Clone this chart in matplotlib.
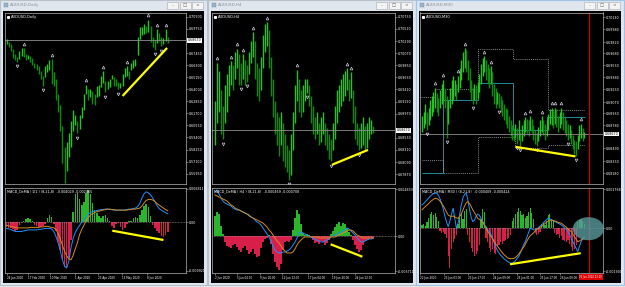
import matplotlib
matplotlib.use('Agg')
import matplotlib.pyplot as plt
from matplotlib.patches import Rectangle, Ellipse
import numpy as np

W, H = 625, 287

# ---------------- DATA ----------------
# Window 1: AUDUSD Daily (prices in 1e-4 units), one bar ~1.5 trading days
d1_low = [6830, 6800, 6760, 6700, 6680, 6660, 6690, 6720, 6710, 6680,
          6690, 6660, 6630, 6600, 6580, 6550, 6500, 6434, 6520, 6560,
          6580, 6450, 6430, 6300, 6180, 6000, 5700, 5506, 5620, 5750,
          5850, 6000, 6060, 5980, 6020, 6130, 6200, 6350, 6300, 6330,
          6260, 6250, 6330, 6340, 6420, 6460, 6370, 6400, 6420, 6500,
          6430, 6430, 6400, 6410, 6430, 6520, 6530, 6500, 6580, 6600,
          6620, 6730, 6880, 6920, 6930, 6940, 6950, 6850, 6800, 6778,
          6840, 6860, 6810, 6830, 6860, 6840]
d1_high = [6875, 6850, 6830, 6780, 6740, 6710, 6760, 6790, 6795, 6740,
           6730, 6720, 6700, 6650, 6640, 6620, 6570, 6530, 6620, 6640,
           6680, 6685, 6560, 6500, 6350, 6250, 6050, 5850, 5900, 5980,
           6100, 6200, 6150, 6100, 6150, 6230, 6350, 6445, 6400, 6400,
           6380, 6350, 6430, 6440, 6530, 6570, 6480, 6480, 6500, 6540,
           6520, 6500, 6470, 6460, 6550, 6600, 6620, 6570, 6650, 6680,
           6690, 6900, 6990, 6990, 7020, 7000, 7064, 7000, 6900, 6870,
           6970, 6940, 6900, 6890, 6970, 6900]
d1_up_fractals = [8, 21, 37, 45, 56, 66, 70, 74]
d1_down_fractals = [5, 17, 27, 33, 46, 52, 69, 72]
d1_current = 6867
d1_price_ticks = [7090, 6975, 6745, 6630, 6515, 6400, 6285, 6170, 6055, 5940, 5825, 5710, 5595]
d1_price_labels = ['0.70900', '0.69750', '0.67450', '0.66300', '0.65150', '0.64000', '0.62850',
                   '0.61700', '0.60550', '0.59400', '0.58250', '0.57100', '0.55950']
d1_trend_x = [54, 74.7]
d1_trend_y = [6336, 6794]
# MACD (1e-4 units)
d1_hist = [-10, -12, -12, -14, -18, -15, -5, -2, 3, 7, 8, 6, 2, -6, -8, -9, -10, -8, -3, 8,
           14, 10, -3, -18, -38, -55, -72, -88, -90, -70, -35, 20, 55, 57, 45, 35, 40, 58, 63, 55,
           38, 25, 18, 12, 8, 12, 15, 8, 2, -8, -11, -4, -2, -10, -15, -12, -3, 3, 2, 8,
           10, 9, 15, 25, 33, 37, 30, 12, -5, -12, -18, -22, -27, -28, -25, -20]
d1_macd = [-12, -13, -14, -16, -18, -18, -18, -18, -17, -16, -15, -15, -15, -15, -15, -14, -14, -13, -12, -12,
           -12, -13, -18, -28, -40, -55, -74, -86, -90, -76, -50, -32, -20, -12, -6, 0, 5, 11, 16, 19,
           21, 22, 23, 24, 25, 25, 26, 26, 25, 25, 24, 24, 24, 24, 24, 24, 25, 26, 26, 27,
           28, 31, 37, 48, 56, 60, 58, 54, 48, 41, 33, 27, 24, 21, 19, 17]
d1_signal = [-6, -7, -8, -9, -10, -11, -11, -11, -11, -11, -11, -10, -10, -10, -10, -10, -9, -9, -8, -8,
             -9, -10, -11, -14, -22, -32, -45, -57, -66, -72, -74, -65, -52, -40, -24, -14, -6, 3, 9, 14,
             17, 19, 21, 22, 23, 24, 25, 26, 26, 25, 25, 24, 24, 24, 24, 24, 24, 25, 25, 26,
             26, 27, 28, 32, 38, 43, 45, 45, 44, 41, 37, 34, 31, 28, 25, 23]
d1_macd_trend_x = [49.2, 73]
d1_macd_trend_y = [-16.5, -34.8]
d1_dates = ['24 Jan 2020', '17 Feb 2020', '10 Mar 2020', '1 Apr 2020', '23 Apr 2020', '15 May 2020', '8 Jun 2020']
d1_date_pos = [0, 10, 20.2, 31.9, 42.6, 53.7, 65.3]

# Window 2: AUDUSD H4
h4_low = [6840, 6880, 6900, 6860, 6850, 6880, 6900, 6930, 6950, 6940,
          6960, 6980, 6950, 6950, 6960, 6950, 6955, 6970, 6990, 7000,
          6960, 6930, 6920, 6940, 6980, 7010, 7020, 6980, 6930, 6890,
          6860, 6840, 6820, 6840, 6810, 6800, 6790, 6776, 6785, 6830,
          6880, 6920, 6900, 6890, 6900, 6920, 6935, 6910, 6880, 6860,
          6850, 6860, 6840, 6845, 6860, 6840, 6830, 6815, 6810, 6830,
          6850, 6880, 6900, 6910, 6920, 6930, 6940, 6920, 6925, 6880,
          6850, 6840, 6830, 6835, 6840, 6830, 6835, 6850, 6860, 6862]
h4_high = [6920, 6990, 6975, 6940, 6910, 6950, 6970, 6985, 6992, 6985,
           7010, 7015, 7005, 6990, 7005, 6995, 6985, 7010, 7030, 7045,
           7030, 6990, 6980, 7000, 7040, 7060, 7064, 7050, 7000, 6960,
           6920, 6900, 6890, 6900, 6880, 6860, 6840, 6830, 6860, 6900,
           6950, 6977, 6960, 6940, 6950, 6960, 6960, 6950, 6930, 6910,
           6890, 6900, 6880, 6890, 6900, 6880, 6870, 6860, 6850, 6880,
           6910, 6940, 6950, 6960, 6970, 6975, 6980, 6960, 6972, 6940,
           6910, 6880, 6870, 6880, 6890, 6875, 6880, 6890, 6885, 6875]
h4_up_fractals = [1, 8, 11, 14, 19, 26, 41, 66, 68]
h4_down_fractals = [4, 13, 16, 37, 46, 58, 72]
h4_current = 6867
h4_price_ticks = [7073, 7051, 7029, 7007, 6985, 6963, 6941, 6919, 6897, 6853, 6831, 6809, 6787]
h4_price_labels = ['0.70730', '0.70510', '0.70290', '0.70070', '0.69850', '0.69630', '0.69410',
                   '0.69190', '0.68970', '0.68530', '0.68310', '0.68090', '0.67870']
h4_trend_x = [58.5, 76.5]
h4_trend_y = [6804, 6831]
h4_hist = [20, 24, 22, 10, 2, -6, -10, -11, -12, -9, -8, -11, -14, -16, -12, -10, -14, -18, -16, -13,
           -18, -21, -20, -12, -6, -3, -2, 1, -8, -18, -26, -31, -34, -28, -14, -6, -5, -6, -4, 6,
           18, 26, 22, 12, 3, 1, 2, 1, -1, -4, -7, -6, -8, -5, -6, -9, -7, -4, 2, 5,
           9, 12, 14, 10, 13, 12, 8, 4, 1, -4, -9, -13, -16, -14, -9, -5, -4, -3, -2, -3]
h4_macd = [44, 46, 42, 38, 35, 33, 32, 31, 30, 28, 27, 26, 26, 25, 24, 23, 22, 20, 19, 18,
           16, 14, 13, 11, 8, 5, 2, -1, -5, -10, -14, -16, -17, -17, -16, -16, -15, -14, -12, -9,
           -6, -2, 3, 4, 3, 2, 1, 0, -1, -2, -3, -4, -5, -6, -6, -5, -4, -3, -1, 0,
           1, 2, 3, 4, 5, 6, 8, 7, 5, 3, 1, -2, -4, -6, -6, -5, -4, -3, -3, -2]
h4_signal = [41, 40, 39, 38, 37, 36, 35, 33, 31, 30, 28, 27, 26, 25, 24, 23, 22, 21, 19, 18,
             17, 16, 15, 14, 13, 11, 9, 6, 4, 1, -2, -5, -7, -10, -13, -15, -17, -17, -17, -16,
             -13, -9, -6, -4, -2, -1, -1, -1, -1, -1, -1, -1, -2, -2, -2, -2, -2, -2, -1, -1,
             -1, 0, 1, 2, 3, 4, 5, 6, 6, 5, 3, 1, 0, -1, -2, -2, -2, -2, -2, -2]
h4_macd_trend_x = [57.8, 73.7]
h4_macd_trend_y = [-8.3, -20.7]
h4_dates = ['2 Jun 2020', '5 Jun 04:00', '9 Jun 20:00', '12 Jun 12:00', '17 Jun 04:00', '19 Jun 20:00', '24 Jun 12:00']
h4_date_pos = [0, 11, 22.5, 33.5, 46.5, 58.5, 70]

# Window 3: AUDUSD M30
m30_low = [6870, 6875, 6880, 6872, 6878, 6885, 6890, 6895, 6900, 6895,
           6890, 6900, 6905, 6910, 6900, 6862, 6880, 6900, 6905, 6910,
           6915, 6910, 6920, 6925, 6935, 6945, 6950, 6945, 6935, 6920,
           6910, 6905, 6910, 6905, 6912, 6920, 6930, 6940, 6945, 6935,
           6930, 6925, 6930, 6915, 6905, 6900, 6905, 6900, 6895, 6890,
           6885, 6880, 6875, 6870, 6865, 6860, 6858, 6862, 6855, 6860,
           6852, 6858, 6865, 6870, 6868, 6865, 6872, 6868, 6860, 6855,
           6852, 6858, 6865, 6870, 6866, 6860, 6865, 6872, 6880, 6878,
           6875, 6880, 6876, 6870, 6875, 6880, 6872, 6868, 6865, 6860,
           6862, 6855, 6848, 6842, 6840, 6848, 6858, 6862, 6858, 6862]
m30_high = [6890, 6895, 6905, 6895, 6900, 6910, 6915, 6920, 6925, 6918,
            6912, 6922, 6930, 6935, 6925, 6915, 6910, 6925, 6935, 6940,
            6935, 6930, 6940, 6950, 6960, 6970, 6974, 6972, 6960, 6950,
            6935, 6925, 6930, 6928, 6932, 6942, 6955, 6962, 6964, 6960,
            6955, 6950, 6952, 6945, 6930, 6925, 6920, 6918, 6915, 6910,
            6905, 6900, 6898, 6890, 6885, 6878, 6875, 6880, 6875, 6885,
            6870, 6878, 6885, 6888, 6886, 6884, 6890, 6886, 6878, 6872,
            6868, 6876, 6884, 6889, 6885, 6880, 6884, 6892, 6898, 6900,
            6896, 6900, 6898, 6890, 6895, 6900, 6894, 6888, 6884, 6880,
            6878, 6872, 6866, 6860, 6858, 6866, 6878, 6880, 6874, 6870]
m30_up_fractals = [8, 13, 22, 26, 38, 42, 63, 66, 73, 79, 81, 85, 97]
m30_down_fractals = [3, 15, 31, 47, 58, 60, 70, 89, 94]
m30_current = 6867
m30_price_ticks = [7013, 6998, 6982, 6968, 6953, 6938, 6923, 6907, 6893, 6878, 6849, 6833, 6818]
m30_price_labels = ['0.70130', '0.69980', '0.69820', '0.69680', '0.69530', '0.69380', '0.69230',
                    '0.69070', '0.68930', '0.68780', '0.68490', '0.68330', '0.68180']
m30_trend_x = [57, 93.6]
m30_trend_y = [6851, 6839]
# range indicator step lines (bar-index edges, price levels)
m30_teal_edges = [0, 12.8, 34.1, 55.5, 76.2, 99.4]
m30_teal_levels = [6818, 6910, 6931, 6872, 6888]
m30_upper_edges = [-1.2, 7.9, 34.1, 55.5, 76.8, 99.4]
m30_upper_levels = [6913, 6923, 6973, 6961, 6897]
m30_lower_edges = [0, 12.8, 34.1, 56.7, 76.8, 99.4]
m30_lower_levels = [6835, 6818, 6863, 6850, 6853]
m30_marker_bar = 101.8
# MACD (1e-5 units)
m30_hist = [15, 20, 10, 25, 45, 60, 70, 55, 65, 48, 30, -10, -20, -15, -25, -40, -120, -170, -90, -60,
            -45, -30, 20, 45, 60, 40, 75, 80, -30, -60, -85, -100, -120, -110, -95, -70, 40, 80, 70, -40,
            -60, -85, -100, -90, -105, -110, -80, -70, -60, -65, -55, -50, -45, -40, -30, 30, 45, 60, 70, 85,
            75, 55, 60, 45, 50, 70, 85, 65, 40, -20, -30, -25, -15, 20, 25, 15, 30, 55, 60, 40,
            35, -20, -30, -25, -40, -35, -50, -55, -60, -50, -65, -80, -95, -90, -70, 25, 35, 40, 30, 20]
m30_macd = [99, 105, 112, 120, 128, 136, 142, 147, 149, 149, 140, 125, 105, 80, 50, 25, 7, 30, 60, 85,
            40, 0, 20, 60, 100, 130, 145, 149, 120, 80, 45, 28, 35, 50, 60, 55, 42, 30, 15, 7,
            -5, -15, -25, -40, -60, -80, -95, -105, -115, -122, -130, -135, -140, -145, -148, -149, -145, -138, -128, -120,
            -105, -88, -70, -57, -38, -18, 0, -3, -6, -7, -3, 3, 9, 14, 22, 30, 37, 42, 40, 36,
            32, 28, 25, 21, 18, 14, 8, 1, -6, -14, -28, -42, -57, -71, -85, -99, -78, -57, -46, -36]
m30_signal = [78, 85, 92, 98, 105, 112, 118, 123, 127, 126, 122, 115, 105, 95, 82, 68, 56, 52, 50, 52,
              48, 44, 42, 50, 62, 78, 95, 108, 113, 105, 92, 78, 66, 55, 42, 38, 32, 24, 14, 2,
              -14, -24, -34, -45, -56, -67, -76, -85, -95, -104, -112, -118, -125, -128, -129, -129, -128, -124, -118, -110,
              -100, -90, -80, -68, -55, -42, -32, -26, -20, -12, -6, -1, 4, 8, 14, 20, 26, 30, 33, 35,
              33, 31, 28, 25, 23, 21, 16, 10, 4, -3, -9, -14, -25, -36, -47, -57, -54, -50, -46, -43]
m30_macd_trend_x = [53.7, 96.8]
m30_macd_trend_y = [-153, -106]
m30_ellipse = [101.5, -2, 19, 98]   # centre x, centre y, width, height (data units)
m30_dates = ['22 Jun 2020', '23 Jun 03:00', '23 Jun 17:00', '24 Jun 09:00', '25 Jun 01:00', '25 Jun 17:00', '26 Jun 09:00']
m30_date_pos = [-1.0, 13.4, 28, 43.3, 57.9, 71.9, 84.3]
m30_marker_label = '26 Jun 2020 23:00'
m30_marker_label_x = 103.0

# ---------------- DRAWING ----------------
YLAB = 2.35
XLAB = 1.95

fig = plt.figure(figsize=(W / 100, H / 100), dpi=100)
fig.patch.set_facecolor('#e4e7eb')


def px_rect(x0, y0, x1, y1):
    return [x0 / W, 1 - y1 / H, (x1 - x0) / W, (y1 - y0) / H]


bg = fig.add_axes([0, 0, 1, 1])
bg.set_xlim(0, W)
bg.set_ylim(H, 0)
bg.axis('off')


def window_chrome(x0, x1, title, active=False):
    edge = '#9fc3e6' if active else '#b9c2cc'
    bg.add_patch(Rectangle((x0, 0), x1 - x0, 285, fc='#dfe6ee', ec=edge, lw=0.8))
    bg.add_patch(Rectangle((x0 + 3, 11), x1 - x0 - 6, 271.5, fc='black', ec='none'))
    bg.add_patch(Rectangle((x0 + 3.5, 3), 4, 4, fc='#9ab4cf', ec='#6f8aa6', lw=0.3))
    bg.text(x0 + 10, 5.3, title, fontsize=3.0, color='#8a8f96', va='center', ha='left')
    bx = x1 - 40
    for k, sym in enumerate(['–', '□', '×']):
        bg.add_patch(Rectangle((bx + k * 12.5, 2), 11, 7, fc='#f4f4f4', ec='#a4aab2', lw=0.4))
        bg.text(bx + k * 12.5 + 5.5, 5.6, sym, fontsize=3.2, color='#606060', ha='center', va='center')


window_chrome(0, 207, 'AUDUSD,Daily')
window_chrome(208, 416, 'AUDUSD,H4')
window_chrome(416, 624, 'AUDUSD,M30', active=True)


def style_axes(ax):
    ax.set_facecolor('black')
    for s in ax.spines.values():
        s.set_color('#b4b4b4')
        s.set_linewidth(0.5)
    ax.yaxis.tick_right()
    ax.tick_params(axis='y', colors='#b4b4b4', labelcolor='white', labelsize=YLAB,
                   length=1.5, width=0.4, pad=0.8)


def price_panel(rect, low, high, xlim, ylim, ticks, labels, cur, title,
                up_fr, dn_fr, tr_x, tr_y):
    ax = fig.add_axes(px_rect(*rect))
    style_axes(ax)
    lo = np.array(low, float)
    hi = np.array(high, float)
    x = np.arange(len(lo))
    mid = (lo + hi) / 2
    up = np.r_[True, mid[1:] >= mid[:-1]]
    cols = np.where(up, '#23c423', '#0b8d0b')
    ax.vlines(x, lo, hi, colors=cols, linewidth=1.0)
    ax.axhline(cur, color='#8e8e8e', lw=0.6)
    off = (ylim[1] - ylim[0]) * 0.025
    ax.plot(up_fr, hi[up_fr] + off, ls='none', marker='^', ms=2.0, mfc='none',
            mec='#c4c6d6', mew=0.5)
    ax.plot(dn_fr, lo[dn_fr] - off, ls='none', marker='v', ms=2.0, mfc='none',
            mec='#c4c6d6', mew=0.5)
    ax.plot(tr_x, tr_y, color='#ffff00', lw=1.6, solid_capstyle='butt')
    ax.set_xlim(xlim)
    ax.set_ylim(ylim)
    ax.set_xticks([])
    ax.set_yticks(ticks)
    ax.set_yticklabels(labels)
    ax.text(1.008, cur, '0.%05d' % (cur * 10), transform=ax.get_yaxis_transform(),
            fontsize=YLAB, color='black', va='center', ha='left', clip_on=False,
            bbox=dict(boxstyle='square,pad=0.12', fc='white', ec='none'))
    ax.plot([0.016], [0.972], transform=ax.transAxes, marker='s', ms=1.2, color='white')
    ax.text(0.035, 0.975, title, transform=ax.transAxes, fontsize=2.6, color='white',
            va='center', ha='left')
    return ax


def macd_panel(rect, hist, macd, sig, xlim, ylim, labels, title, dpos, dlabels,
               tr_x, tr_y):
    ax = fig.add_axes(px_rect(*rect))
    style_axes(ax)
    h = np.array(hist, float)
    x = np.arange(len(h))
    cols = np.where(h >= 0, '#2bb52b', '#d81f4a')
    ax.bar(x, h, width=0.72, color=cols, linewidth=0)
    ax.axhline(0, color='#a0a0a0', lw=0.5, ls=(0, (1, 1.2)))
    ax.plot(x, macd, color='#1e90ff', lw=0.7)
    ax.plot(x, sig, color='#d88a1e', lw=0.7)
    ax.plot(tr_x, tr_y, color='#ffff00', lw=1.6, solid_capstyle='butt')
    ax.set_xlim(xlim)
    ax.set_ylim(ylim)
    ax.set_yticks([ylim[1] * 0.96, 0, ylim[0] * 0.97])
    ax.set_yticklabels(labels)
    ax.set_xticks(dpos)
    ax.set_xticklabels(dlabels)
    ax.tick_params(axis='x', colors='#b4b4b4', labelcolor='white', labelsize=XLAB,
                   length=1.5, width=0.4, pad=0.8)
    for t in ax.get_xticklabels():
        t.set_ha('left')
    ax.text(0.012, 0.975, title, transform=ax.transAxes, fontsize=2.4, color='white',
            va='top', ha='left')
    return ax


# Window 1
price_panel((5, 12.5, 186, 184), d1_low, d1_high, (-0.7, 83.5), (5496, 7132),
            d1_price_ticks, d1_price_labels, d1_current, 'AUDUSD,Daily',
            d1_up_fractals, d1_down_fractals, d1_trend_x, d1_trend_y)
macd_panel((5, 187.5, 186, 272.5), d1_hist, d1_macd, d1_signal, (-0.7, 83.5), (-98.8, 68.5),
           ['0.006811', '0.00', '-0.009921'], 'MACD_DeMA ( D1 ) (8,21,8)  -0.004029 -0.002465',
           d1_date_pos, d1_dates, d1_macd_trend_x, d1_macd_trend_y)

# Window 2
price_panel((212, 12.5, 395, 184), h4_low, h4_high, (-1.5, 90), (6769, 7081),
            h4_price_ticks, h4_price_labels, h4_current, 'AUDUSD,H4',
            h4_up_fractals, h4_down_fractals, h4_trend_x, h4_trend_y)
macd_panel((212, 187.5, 395, 272.5), h4_hist, h4_macd, h4_signal, (-1.5, 90), (-36.5, 48.5),
           ['0.004833', '0.00', '-0.003711'], 'MACD_DeMA ( H4 ) (8,21,8)  -0.000469 -0.000708',
           h4_date_pos, h4_dates, h4_macd_trend_x, h4_macd_trend_y)

# Window 3
ax3 = price_panel((420, 12.5, 603, 184), m30_low, m30_high, (-1.22, 110.4), (6804.5, 7019),
                  m30_price_ticks, m30_price_labels, m30_current, 'AUDUSD,M30',
                  m30_up_fractals, m30_down_fractals, m30_trend_x, m30_trend_y)
ax3.stairs(m30_teal_levels, m30_teal_edges, baseline=None, color='#1f8c99', lw=0.7)
ax3.stairs(m30_upper_levels, m30_upper_edges, baseline=None, color='#a8a8a8', lw=0.6,
           linestyle=(0, (1, 1.3)))
ax3.stairs(m30_lower_levels, m30_lower_edges, baseline=None, color='#a8a8a8', lw=0.6,
           linestyle=(0, (1, 1.3)))
ax3.axvline(m30_marker_bar, color='#d40000', lw=0.9)
am3 = macd_panel((420, 187.5, 603, 272.5), m30_hist, m30_macd, m30_signal, (-1.22, 110.4), (-188, 173),
                 ['0.001768', '0.00', '-0.001900'], 'MACD_DeMA ( M30 ) (8,21,8)  -0.000409 -0.000424',
                 m30_date_pos, m30_dates, m30_macd_trend_x, m30_macd_trend_y)
am3.axvline(m30_marker_bar, color='#d40000', lw=0.9)
am3.add_patch(Ellipse((m30_ellipse[0], m30_ellipse[1]), m30_ellipse[2], m30_ellipse[3],
                      fc='#5a9a9c', ec='none', alpha=0.8, clip_on=False, zorder=5))
am3.text(m30_marker_label_x, -0.03, m30_marker_label, transform=am3.get_xaxis_transform(),
         fontsize=1.8, color='white', ha='center', va='top', clip_on=False, zorder=6,
         bbox=dict(boxstyle='square,pad=0.25', fc='#e00000', ec='none'))

fig.savefig('out.png', dpi=100, facecolor=fig.get_facecolor())
